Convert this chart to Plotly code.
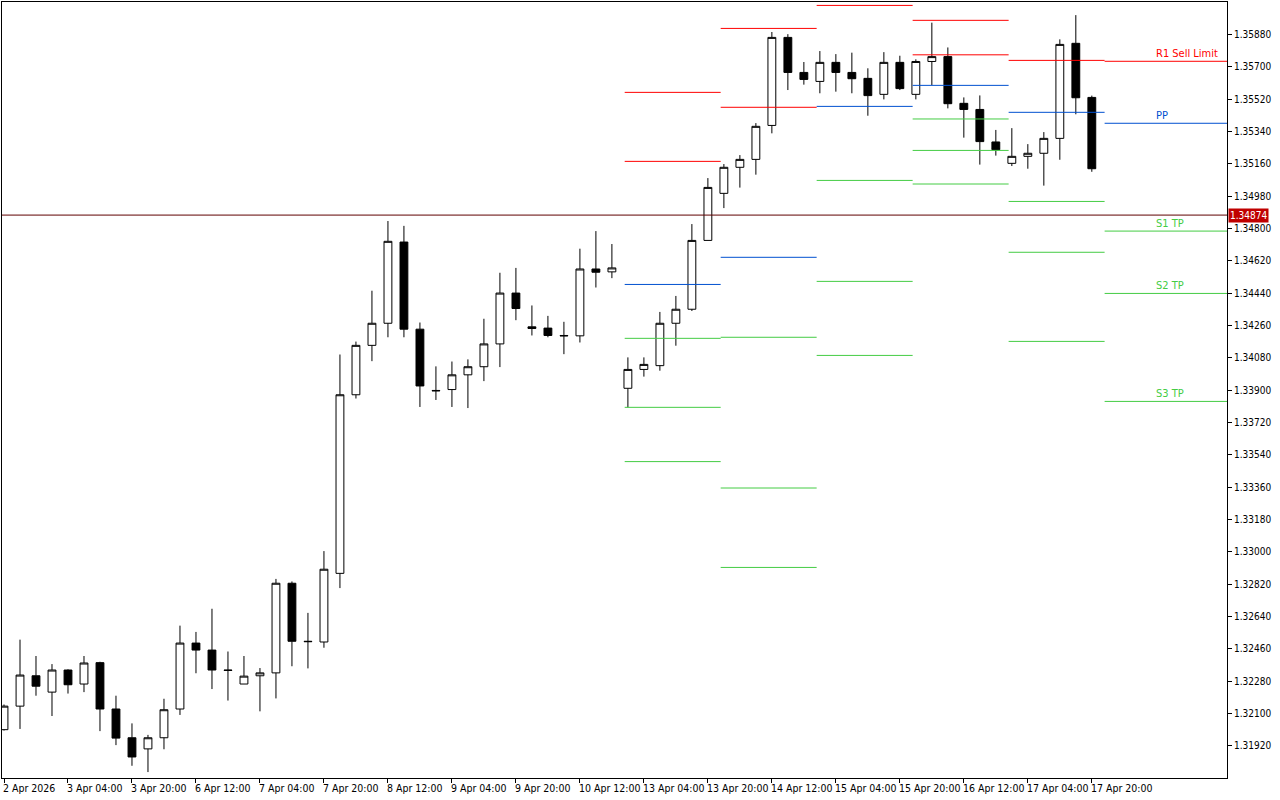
import plotly.graph_objects as go

opens  = [1.32010,1.32141,1.32310,1.32219,1.32342,1.32264,1.32383,1.32125,1.31965,1.31903,
          1.31965,1.32125,1.32492,1.32453,1.32342,1.32264,1.32310,1.32326,1.32825,1.32502,
          1.32498,1.32880,1.33874,1.34149,1.34272,1.34724,1.34239,1.33898,1.33903,1.33985,
          1.34030,1.34157,1.34440,1.34252,1.34245,1.34204,1.34202,1.34574,1.34558,1.33910,
          1.34015,1.34036,1.34272,1.34350,1.34733,1.34995,1.35140,1.35184,1.35373,1.35863,
          1.35668,1.35618,1.35724,1.35668,1.35635,1.35546,1.35724,1.35546,1.35729,1.35756,
          1.35496,1.35462,1.35281,1.35162,1.35201,1.35218,1.35301,1.35830,1.35529]
highs  = [1.32150,1.32511,1.32420,1.32375,1.32346,1.32420,1.32388,1.32199,1.32045,1.31981,
          1.32182,1.32589,1.32554,1.32683,1.32445,1.32420,1.32353,1.32849,1.32835,1.32660,
          1.33004,1.34098,1.34170,1.34453,1.34841,1.34814,1.34276,1.34032,1.34059,1.34071,
          1.34297,1.34553,1.34580,1.34371,1.34313,1.34280,1.34687,1.34785,1.34713,1.34082,
          1.34082,1.34335,1.34424,1.34824,1.35080,1.35158,1.35208,1.35386,1.35893,1.35881,
          1.35726,1.35787,1.35770,1.35778,1.35691,1.35781,1.35761,1.35741,1.35945,1.35807,
          1.35529,1.35540,1.35348,1.35358,1.35269,1.35336,1.35852,1.35987,1.35539]
lows   = [1.32005,1.32014,1.32199,1.32086,1.32211,1.32219,1.32002,1.31924,1.31809,1.31774,
          1.31901,1.32092,1.32324,1.32236,1.32172,1.32264,1.32112,1.32184,1.32363,1.32351,
          1.32466,1.32798,1.33853,1.34061,1.34194,1.34194,1.33806,1.33845,1.33806,1.33800,
          1.33950,1.34028,1.34289,1.34204,1.34194,1.34100,1.34165,1.34471,1.34523,1.33804,
          1.33975,1.34008,1.34147,1.34340,1.34733,1.34913,1.35027,1.35099,1.35329,1.35570,
          1.35600,1.35552,1.35561,1.35552,1.35427,1.35518,1.35570,1.35518,1.35598,1.35468,
          1.35305,1.35155,1.35205,1.35147,1.35132,1.35038,1.35182,1.35435,1.35115]
closes = [1.32141,1.32314,1.32252,1.32342,1.32260,1.32381,1.32125,1.31963,1.31858,1.31965,
          1.32121,1.32492,1.32453,1.32342,1.32340,1.32308,1.32326,1.32825,1.32502,1.32500,
          1.32903,1.33874,1.34149,1.34272,1.34728,1.34239,1.33923,1.33896,1.33985,1.34030,
          1.34157,1.34440,1.34354,1.34243,1.34204,1.34202,1.34574,1.34556,1.34580,1.34015,
          1.34043,1.34272,1.34350,1.34733,1.35028,1.35140,1.35184,1.35368,1.35863,1.35668,
          1.35629,1.35724,1.35668,1.35633,1.35539,1.35724,1.35578,1.35729,1.35756,1.35494,
          1.35462,1.35283,1.35238,1.35201,1.35218,1.35301,1.35824,1.35527,1.35132]

tick_idx = [0,4,8,12,16,20,24,28,32,36,40,44,48,52,56,60,64,68]
tick_labels = ["2 Apr 2026","3 Apr 04:00","3 Apr 20:00","6 Apr 12:00","7 Apr 04:00",
               "7 Apr 20:00","8 Apr 12:00","9 Apr 04:00","9 Apr 20:00","10 Apr 12:00",
               "13 Apr 04:00","13 Apr 20:00","14 Apr 12:00","15 Apr 04:00","15 Apr 20:00",
               "16 Apr 12:00","17 Apr 04:00","17 Apr 20:00"]
price_ticks = [1.35880,1.35700,1.35520,1.35340,1.35160,1.34980,1.34800,1.34620,1.34440,
               1.34260,1.34080,1.33900,1.33720,1.33540,1.33360,1.33180,1.33000,1.32820,
               1.32640,1.32460,1.32280,1.32100,1.31920]

seg_bounds = [(38.8,44.8),(44.8,50.8),(50.8,56.8),(56.8,62.8),(62.8,68.8),(68.8,76.5)]
seg_res = [[1.35557,1.35173],[1.35913,1.35474],[1.36041],[1.35958,1.35766],[1.35735],[1.35730]]
seg_pp = [1.34488,1.34639,1.35479,1.35596,1.35446,1.35385]
seg_sup = [[1.34188,1.33804,1.33502],[1.34194,1.33355,1.32913],[1.35067,1.34505,1.34093],
           [1.35409,1.35234,1.35047],[1.34950,1.34667,1.34171],[1.34785,1.34438,1.33837]]
last_labels = {"R": ["R1 Sell Limit"], "PP": "PP", "S": ["S1 TP","S2 TP","S3 TP"]}
last_price = 1.34874

RED, BLUE, GREEN = "#ff0000", "#0050d0", "#44cc44"
FONT = "DejaVu Sans Condensed, DejaVu Sans"
x = list(range(len(opens)))

fig = go.Figure()
fig.add_trace(go.Candlestick(
    x=x, open=opens, high=highs, low=lows, close=closes,
    increasing=dict(line=dict(color="black", width=1), fillcolor="white"),
    decreasing=dict(line=dict(color="black", width=1), fillcolor="black"),
    whiskerwidth=0, showlegend=False, hoverinfo="skip"))

def seg(x0, x1, y, c):
    fig.add_shape(type="line", x0=x0, x1=x1, y0=y, y1=y, line=dict(color=c, width=1), layer="above")

for k, (a, b) in enumerate(seg_bounds):
    for r in seg_res[k]:
        seg(a, b, r, RED)
    seg(a, b, seg_pp[k], BLUE)
    for s in seg_sup[k]:
        seg(a, b, s, GREEN)

a = seg_bounds[-1][0]
lbl_x = a + 3.1
def lab(y, t, c):
    fig.add_annotation(x=lbl_x, y=y, text=t, showarrow=False, xanchor="left", yanchor="bottom",
                       yshift=-1, font=dict(color=c, size=11, family=FONT))
for r, t in zip(seg_res[-1], last_labels["R"]):
    lab(r, t, RED)
lab(seg_pp[-1], last_labels["PP"], BLUE)
for s, t in zip(seg_sup[-1], last_labels["S"]):
    lab(s, t, GREEN)

fig.add_shape(type="line", xref="paper", x0=0, x1=1, y0=last_price, y1=last_price,
              line=dict(color="#600000", width=1), layer="above")
fig.add_annotation(xref="paper", x=1.0, y=last_price, text=f"{last_price:.5f}", showarrow=False,
                   xanchor="left", xshift=1, bgcolor="#c00000",
                   font=dict(color="white", size=10, family=FONT), borderpad=1)

for i, t in zip(tick_idx, tick_labels):
    fig.add_annotation(x=i, yref="paper", y=0, text=t, showarrow=False, xanchor="left", yanchor="top",
                       xshift=-3, yshift=-2, font=dict(color="black", size=10.5, family=FONT))

fig.update_layout(
    width=1280, height=800, margin=dict(l=2, r=53, t=2, b=22, autoexpand=False),
    paper_bgcolor="white", plot_bgcolor="white",
    xaxis=dict(range=[-0.125, 76.45], rangeslider=dict(visible=False), showgrid=False,
               tickvals=tick_idx, ticktext=[""]*len(tick_idx), ticks="outside", ticklen=4,
               tickcolor="black", showline=True, linecolor="black", mirror=True, zeroline=False),
    yaxis=dict(range=[1.31741, 1.36060], side="right", showgrid=False, tickvals=price_ticks,
               ticktext=[f"{p:.5f}" for p in price_ticks], ticks="outside", ticklen=4,
               tickcolor="black", showline=True, linecolor="black", mirror=True, zeroline=False,
               tickfont=dict(size=10, family=FONT, color="black")),
)
fig.write_html("out.html", config={"displayModeBar": False},
               post_script="document.body.style.margin='0';document.body.style.overflow='hidden';")
